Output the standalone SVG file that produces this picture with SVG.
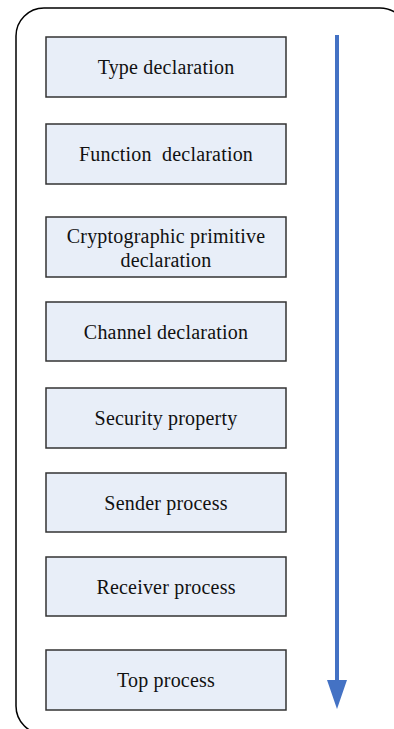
<svg xmlns="http://www.w3.org/2000/svg" width="394" height="729" viewBox="0 0 394 729">
<style>
.box{fill:#E8EEF8;stroke:#333333;stroke-width:1.5}
.lbl{font-family:"Liberation Serif","Times New Roman",serif;font-size:20px;letter-spacing:0.2px;fill:#111111;text-anchor:middle;white-space:pre}
</style>
<rect x="16" y="8" width="392" height="726" rx="28" ry="28" fill="#FFFFFF" stroke="#000000" stroke-width="1.5"/>
<g id="n1"><rect class="box" x="46" y="37" width="240" height="60"/><text class="lbl" x="166" y="74">Type declaration</text></g>
<g id="n2"><rect class="box" x="46" y="124" width="240" height="60"/><text class="lbl" x="166" y="161" xml:space="preserve">Function  declaration</text></g>
<g id="n3"><rect class="box" x="46" y="217" width="240" height="60"/><text class="lbl" x="166" y="242.5">Cryptographic primitive</text><text class="lbl" x="166" y="266.5">declaration</text></g>
<g id="n4"><rect class="box" x="46" y="302" width="240" height="59"/><text class="lbl" x="166" y="338.5">Channel declaration</text></g>
<g id="n5"><rect class="box" x="46" y="388" width="240" height="60"/><text class="lbl" x="166" y="425">Security property</text></g>
<g id="n6"><rect class="box" x="46" y="473" width="240" height="59"/><text class="lbl" x="166" y="509.5">Sender process</text></g>
<g id="n7"><rect class="box" x="46" y="557" width="240" height="59"/><text class="lbl" x="166" y="593.5">Receiver process</text></g>
<g id="n8"><rect class="box" x="46" y="650" width="240" height="60"/><text class="lbl" x="166" y="687">Top process</text></g>
<g id="connectors">
<line x1="337" y1="35" x2="337" y2="682" stroke="#4472C4" stroke-width="4"/>
<polygon points="327,680 347,680 337,709" fill="#4472C4"/>
</g>
</svg>
